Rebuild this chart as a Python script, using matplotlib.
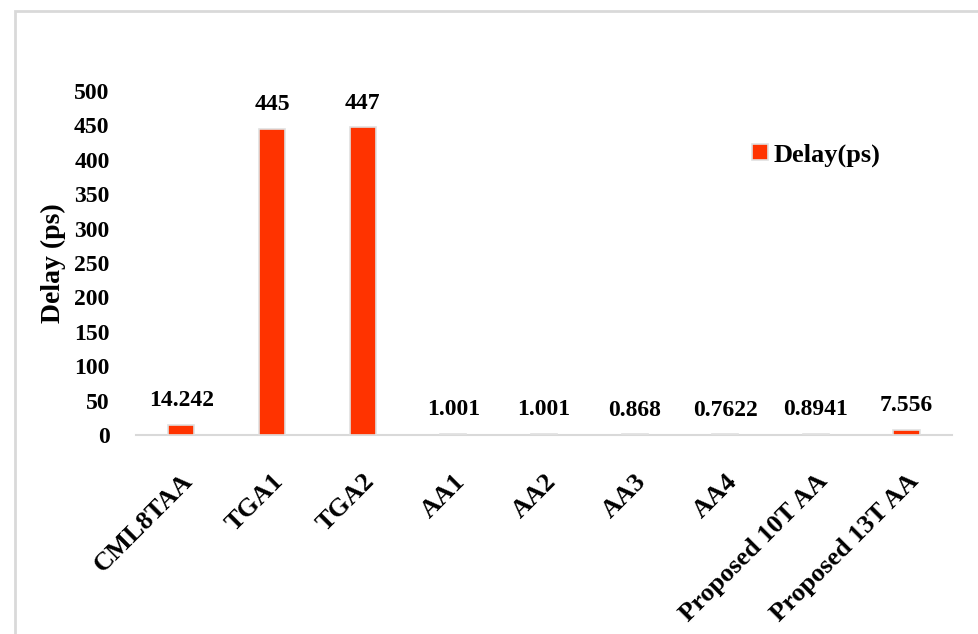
import matplotlib
matplotlib.use("Agg")
import matplotlib.pyplot as plt
from matplotlib.patches import Rectangle

plt.rcParams['font.family'] = ['Liberation Serif', 'DejaVu Serif']
plt.rcParams['font.weight'] = 'bold'

circuits = ['CML8TAA', 'TGA1', 'TGA2', 'AA1', 'AA2', 'AA3', 'AA4',
            'Proposed 10T AA', 'Proposed 13T AA']
delay = [14.242, 445, 447, 1.001, 1.001, 0.868, 0.7622, 0.8941, 7.556]
delay_labels = ['14.242', '445', '447', '1.001', '1.001', '0.868', '0.7622',
                '0.8941', '7.556']
yticks = [0, 50, 100, 150, 200, 250, 300, 350, 400, 450, 500]

fig = plt.figure(figsize=(9.79, 6.34), dpi=100)
ax = fig.add_axes([0.1389, 0.3139, 0.8335, 0.5426])

# light frame around the chart area
fig.patches.append(Rectangle((15 / 979, -0.1), 1.2, 1 - 11 / 634 + 0.1,
                             transform=fig.transFigure, fill=False,
                             edgecolor='#D9D9D9', linewidth=2))

x = range(len(circuits))
bars = ax.bar(x, delay, width=0.29, color='#FF3300', edgecolor='#E0E0E0',
              linewidth=1.2, label='Delay(ps)', zorder=3)
for xi, v, s in zip(x, delay, delay_labels):
    ax.annotate(s, (xi, v), xytext=(0, 10), textcoords='offset points',
                ha='center', va='bottom', fontsize=17, fontweight='bold')

ax.set_xlim(-0.5, len(circuits) - 0.5)
ax.set_ylim(0, 500)
ax.set_yticks(yticks)
ax.tick_params(axis='y', length=0, pad=19, labelsize=17)
ax.set_xticks(list(x))
ax.set_xticklabels(circuits, rotation=45, ha='right', va='top',
                   rotation_mode='anchor', fontsize=19, fontweight='bold')
ax.tick_params(axis='x', length=0, pad=25)
for s in ['top', 'right', 'left']:
    ax.spines[s].set_visible(False)
ax.spines['bottom'].set_color('#D9D9D9')
ax.spines['bottom'].set_linewidth(1.5)
ax.set_ylabel('Delay (ps)', fontsize=20, fontweight='bold', labelpad=6)

ax.legend(loc='center left', bbox_to_anchor=(752 / 979, 1 - 155 / 634),
          bbox_transform=fig.transFigure, frameon=False, fontsize=19,
          handlelength=0.6, handleheight=0.6, handletextpad=0.2,
          borderaxespad=0, borderpad=0)

fig.savefig('out.png', dpi=100, facecolor='white')
